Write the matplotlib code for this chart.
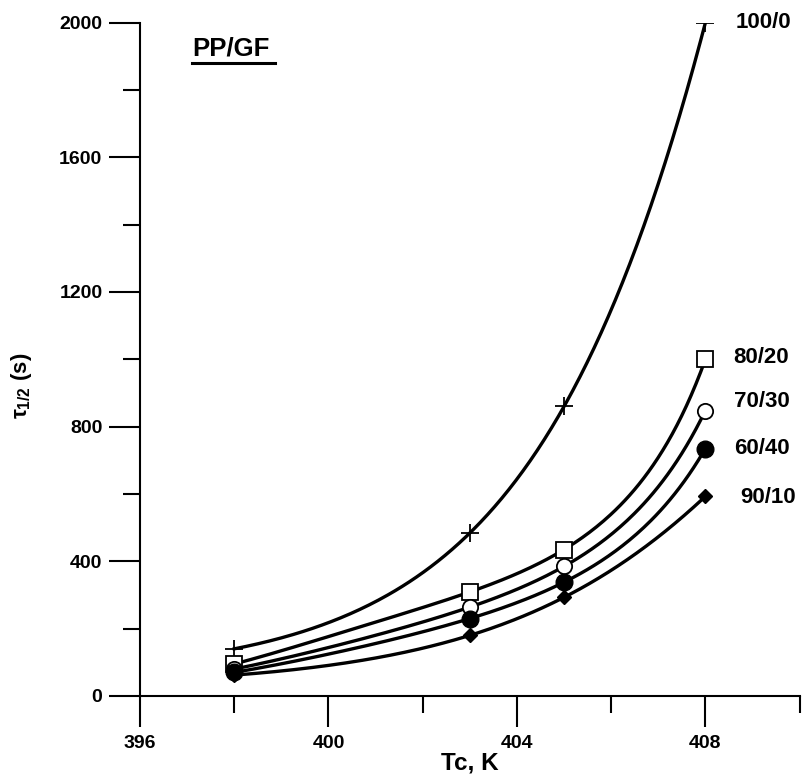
import numpy as np
import matplotlib
matplotlib.use("Agg")
import matplotlib.pyplot as plt
from matplotlib.ticker import MultipleLocator

plt.rcParams['font.family'] = ['Liberation Sans', 'DejaVu Sans']
plt.rcParams['font.weight'] = 'bold'
plt.rcParams['mathtext.fontset'] = 'custom'
plt.rcParams['mathtext.rm'] = 'Liberation Sans:bold'
plt.rcParams['mathtext.it'] = 'Liberation Sans:bold'

# --------------------------- Data ---------------------------- #
tc = [398, 403, 405, 408]
labels = ["100/0", "80/20", "70/30", "60/40", "90/10"]
t_100_0 = [140, 484, 860, 2000]
t_80_20 = [95, 309, 435, 1000]
t_70_30 = [80, 264, 385, 848]
t_60_40 = [70, 230, 338, 735]
t_90_10 = [62, 180, 293, 593]
series = [t_100_0, t_80_20, t_70_30, t_60_40, t_90_10]

# where the end labels sit (x, y in data units)
label_x = [408.65, 408.6, 408.6, 408.6, 408.75]
label_y = [2000, 1005, 875, 735, 590]

markers = [
    dict(marker='+', ms=13, mew=1.3, mfc='none', mec='black'),
    dict(marker='s', ms=11, mew=1.3, mfc='white', mec='black'),
    dict(marker='o', ms=11, mew=1.3, mfc='white', mec='black'),
    dict(marker='o', ms=12, mew=1.0, mfc='black', mec='black'),
    dict(marker='D', ms=7, mew=1.0, mfc='black', mec='black'),
]

# --------------------------- Figure ---------------------------- #
fig = plt.figure(figsize=(8.03, 7.74), dpi=100)
ax = fig.add_axes([0.1743, 0.1008, 0.8215, 0.8699])

xs = np.linspace(tc[0], tc[-1], 200)
for vals, mk in zip(series, markers):
    # smooth curve through the points (cubic in log space)
    coef = np.polyfit(tc, np.log(vals), 3)
    ax.plot(xs, np.exp(np.polyval(coef, xs)), color='black', lw=2.4, zorder=2)
    ax.plot(tc, vals, linestyle='none', zorder=3, **mk)

# series labels at the right end
for lab, lx, ly in zip(labels, label_x, label_y):
    ax.text(lx, ly, lab, fontsize=16, fontweight='bold',
            va='center', ha='left', clip_on=False)

# PP/GF title with underline
ax.text(0.08, 0.962, "PP/GF", transform=ax.transAxes, fontsize=18.5,
        fontweight='bold', va='center', ha='left')
ax.plot([0.079, 0.204], [0.9405, 0.9405], transform=ax.transAxes,
        color='black', lw=2.2, clip_on=False)

ax.set_xlim(396, 410)
ax.set_ylim(0, 2000)
ax.xaxis.set_major_locator(MultipleLocator(4))
ax.xaxis.set_minor_locator(MultipleLocator(2))
ax.yaxis.set_major_locator(MultipleLocator(400))
ax.yaxis.set_minor_locator(MultipleLocator(200))

for s in ['top', 'right']:
    ax.spines[s].set_visible(False)
for s in ['left', 'bottom']:
    ax.spines[s].set_linewidth(1.5)

ax.tick_params(which='major', direction='out', length=22, width=1.5,
               labelsize=14, pad=5)
ax.tick_params(axis='x', which='major', pad=6)
ax.tick_params(which='minor', direction='out', length=12, width=1.5)
for lbl in ax.get_xticklabels() + ax.get_yticklabels():
    lbl.set_fontweight('bold')

ax.set_xlabel("Tc, K", fontsize=17.5, fontweight='bold')
ax.xaxis.set_label_coords(0.5, -0.083)
ax.set_ylabel(r"$\tau_{1/2}$ (s)", fontsize=16, fontweight='bold')
ax.yaxis.set_label_coords(-0.16, 0.46)

fig.savefig("out.png", dpi=100)
